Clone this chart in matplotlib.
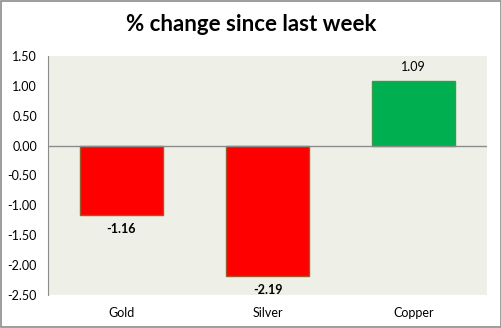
import matplotlib.pyplot as plt
from matplotlib.patches import Rectangle

metals = ["Gold", "Silver", "Copper"]
change = [-1.16, -2.19, 1.09]
yticks = [-2.5, -2.0, -1.5, -1.0, -0.5, 0.0, 0.5, 1.0, 1.5]

plt.rcParams['font.family'] = ['Lato', 'DejaVu Sans']

fig = plt.figure(figsize=(5.02, 3.28), dpi=100)
fig.patches.append(Rectangle((0.001, 0.002), 0.997, 0.995, transform=fig.transFigure,
                             fill=False, edgecolor='#8c8c8c', linewidth=1.2))
ax = fig.add_axes([0.096, 0.101, 0.874, 0.728])
ax.set_facecolor('#eef0e8')

colors = ['#ff0000' if v < 0 else '#00b050' for v in change]
edges = ['#9c5a2a' if v < 0 else '#3a9a4a' for v in change]
x = range(len(metals))
ax.bar(x, change, width=0.57, color=colors, edgecolor=edges, linewidth=1)

for i, v in enumerate(change):
    if v < 0:
        ax.text(i, v - 0.13, f"{v:.2f}", ha='center', va='top', fontsize=9, fontweight='bold')
    else:
        ax.text(i, v + 0.13, f"{v:.2f}", ha='center', va='bottom', fontsize=9)

ax.axhline(0, color='#8c8c8c', linewidth=1)
ax.set_xlim(-0.5, 2.5)
ax.set_ylim(-2.5, 1.5)
ax.set_yticks(yticks)
ax.set_yticklabels([f"{t:.2f}" for t in yticks], fontsize=9)
ax.set_xticks(list(x))
ax.set_xticklabels(metals, fontsize=9)
ax.tick_params(length=0, pad=8)
ax.tick_params(axis='x', pad=9)
for s in ['top', 'right', 'bottom']:
    ax.spines[s].set_visible(False)
ax.spines['left'].set_color('#8c8c8c')

fig.text(0.5, 0.925, "% change since last week", ha='center', va='center',
         fontsize=16, fontweight='bold')

fig.savefig('out.png', dpi=100)
